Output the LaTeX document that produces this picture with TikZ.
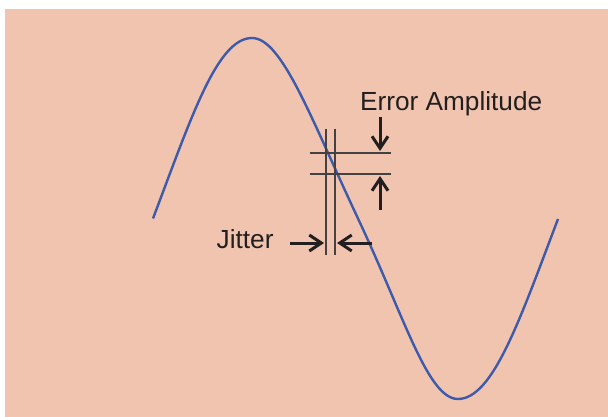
\documentclass[tikz,border=0pt]{standalone}
\usepackage{fontspec}
\setmainfont{Liberation Sans}
\usetikzlibrary{arrows.meta}
\definecolor{peach}{RGB}{240,196,175}
\definecolor{wave}{RGB}{61,91,170}
\definecolor{ink}{RGB}{35,31,32}

\begin{document}
\begin{tikzpicture}
[
	x=1pt,y=-1pt,
	guide/.style={ink!85,line width=1.1pt},
	pointer/.style={ink,line width=3pt,-{Straight Barb[length=12pt,width=16pt]}},
	caption/.style={ink,inner sep=0pt,anchor=base west,font=\fontsize{26.2}{31}\selectfont}
]

	\useasboundingbox (0,0) rectangle (608,417);
	\fill[peach] (5,9) rectangle (608,417);

	\draw[wave,line width=2.4pt] (153,218.5) .. controls (191,118.5) and (217,38) .. (252,38)
		.. controls (282,38) and (311,118.5) .. (358,218.5)
		.. controls (405,318.5) and (428,399) .. (458,399)
		.. controls (493,399) and (520,319) .. (558,219);

	\draw[guide] (326,129) -- (326,255);
	\draw[guide] (335,129) -- (335,255);
	\draw[guide] (310,153) -- (391,153);
	\draw[guide] (310,174) -- (391,174);

	\node[caption] at (360,111) (err) {Error Amplitude};
	\coordinate (errtop) at (380,117);
	\coordinate (errhi) at (380,151);
	\coordinate (errbot) at (380,210);
	\coordinate (errlo) at (380,176);
	\draw[pointer] (errtop) -- (errhi);
	\draw[pointer] (errbot) -- (errlo);

	\node[caption] at (216.5,248) (jit) {Jitter};
	\coordinate (jitleft) at (290,243);
	\coordinate (jitl) at (324,243);
	\coordinate (jitright) at (372,243);
	\coordinate (jitr) at (337,243);
	\draw[pointer] (jitleft) -- (jitl);
	\draw[pointer] (jitright) -- (jitr);

\end{tikzpicture}
\end{document}
